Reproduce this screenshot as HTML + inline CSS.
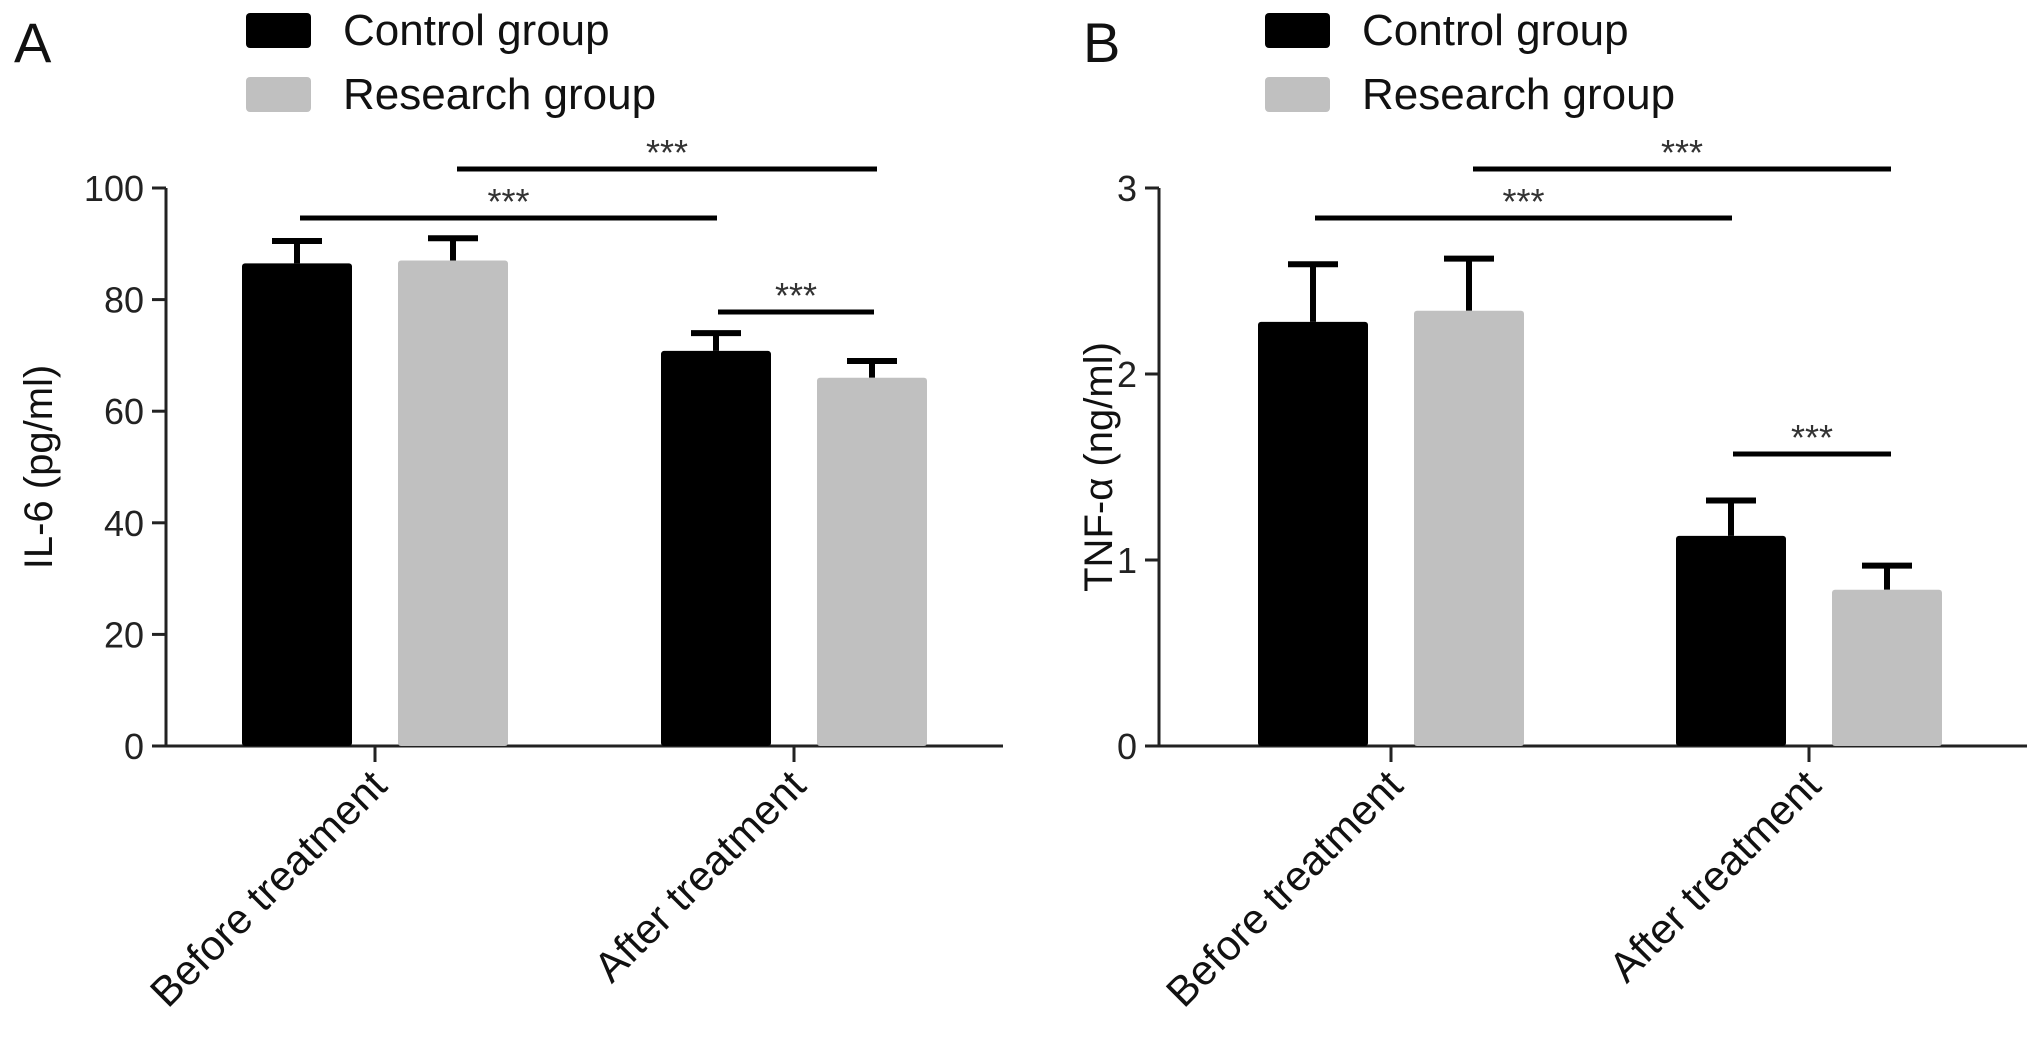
<!DOCTYPE html>
<html><head><meta charset="utf-8"><style>
html,body{margin:0;padding:0;background:#fff}
svg{display:block;font-family:"Liberation Sans",Arial,sans-serif}
</style></head><body>
<svg id="chart" width="2035" height="1043" viewBox="0 0 2035 1043" xmlns="http://www.w3.org/2000/svg"></svg>
<script>
const categories = ["Before treatment", "After treatment"];
const seriesNames = ["Control group", "Research group"];
const il6Values = [[86.5, 70.8], [87.0, 66.0]];
const il6Errors = [[4.0, 3.2], [4.0, 3.0]];
const il6Ticks = [0, 20, 40, 60, 80, 100];
const tnfValues = [[2.28, 1.13], [2.34, 0.84]];
const tnfErrors = [[0.31, 0.19], [0.28, 0.13]];
const tnfTicks = [0, 1, 2, 3];

const NS = "http://www.w3.org/2000/svg";
const svg = document.getElementById("chart");
const colors = ["#000000", "#c0c0c0"];
function mk(tag, attrs, parent) {
  const e = document.createElementNS(NS, tag);
  for (const k in attrs) e.setAttribute(k, attrs[k]);
  (parent || svg).appendChild(e);
  return e;
}
function panel(p) {
  const g = mk("g", {});
  
  
  const yMax = p.ticks[p.ticks.length - 1];
  const y = v => p.y0 - (v / yMax) * (p.y0 - p.y1);
  const L = mk("text", {x: p.letterX, y: 62, "font-size": 56, fill: "#111"}, g); L.textContent = p.letter;
  
  
  seriesNames.forEach((s, i) => {
    const sw = mk("rect", {x: p.legendX, y: 13 + i * 64, width: 65, height: 35, rx: 4, fill: colors[i]}, g);
    
    
    const t = mk("text", {x: p.legendX + 97, y: 45 + i * 64, "font-size": 44, fill: "#111"}, g); t.textContent = s;
    
    
  });
  const ya = mk("line", {x1: p.x0, y1: p.y1, x2: p.x0, y2: p.y0 + 1.5, stroke: "#222", "stroke-width": 3}, g);
  
  
  const xa = mk("line", {x1: p.x0 - 14, y1: p.y0, x2: p.xEnd, y2: p.y0, stroke: "#222", "stroke-width": 3}, g);
  
  
  p.ticks.forEach(t => {
    const ty = y(t);
    mk("line", {x1: p.x0 - 14, y1: ty, x2: p.x0, y2: ty, stroke: "#222", "stroke-width": 3}, g);
    const tl = mk("text", {x: p.x0 - 22, y: ty + 13, "font-size": 36, "text-anchor": "end", fill: "#222"}, g);
    tl.textContent = t;
    
    
  });
  const yt = mk("text", {x: 0, y: 0, "font-size": 40, "text-anchor": "middle", transform: `translate(${p.titleX},${(p.y0 + p.y1) / 2}) rotate(-90)`, fill: "#111"}, g);
  yt.textContent = p.title;
  
  
  categories.forEach((c, ci) => {
    const cx = p.centers[ci];
    mk("line", {x1: cx, y1: p.y0, x2: cx, y2: p.y0 + 16, stroke: "#222", "stroke-width": 3}, g);
    const lab = mk("text", {x: 0, y: 0, "font-size": 42, "text-anchor": "end", transform: `translate(${cx + 14},${p.y0 + 42}) rotate(-45)`, fill: "#111"}, g);
    lab.textContent = c;
    
    
    seriesNames.forEach((s, si) => {
      const bw = 110, gap = 46;
      const bx = cx + (si === 0 ? -(gap / 2) - bw : gap / 2);
      const v = p.values[si][ci], e = p.errors[si][ci];
      const mid = bx + bw / 2;
      const err = mk("path", {d: `M${mid},${y(v)} V${y(v + e)} M${mid - 25},${y(v + e)} H${mid + 25}`, stroke: "#000", "stroke-width": 6, fill: "none"}, g);
      
      
      const r = mk("rect", {x: bx, y: y(v), width: bw, height: p.y0 - y(v), rx: 3, fill: colors[si]}, g);
      
      
    });
  });
  p.sig.forEach(s => {
    const ln = mk("line", {x1: s[0], y1: s[2], x2: s[1], y2: s[2], stroke: "#000", "stroke-width": 5}, g);
    
    
    const st = mk("text", {x: (s[0] + s[1]) / 2, y: s[2] - 4, "font-size": 36, "text-anchor": "middle", fill: "#333"}, g);
    st.textContent = "***";
    
    
  });
}
panel({id: "il6", letter: "A", title: "IL-6 (pg/ml)", x0: 166, xEnd: 1003, y0: 746, y1: 188,
  letterX: 14, legendX: 246, titleX: 52, centers: [375, 794],
  ticks: il6Ticks, values: il6Values, errors: il6Errors,
  sig: [[300, 717, 218], [457, 877, 169], [718, 874, 312]]});
panel({id: "tnf", letter: "B", title: "TNF-α (ng/ml)", x0: 1159, xEnd: 2027, y0: 746, y1: 188,
  letterX: 1083, legendX: 1265, titleX: 1112, centers: [1391, 1809],
  ticks: tnfTicks, values: tnfValues, errors: tnfErrors,
  sig: [[1315, 1732, 218], [1473, 1891, 169], [1733, 1891, 454]]});
</script>
</body></html>
